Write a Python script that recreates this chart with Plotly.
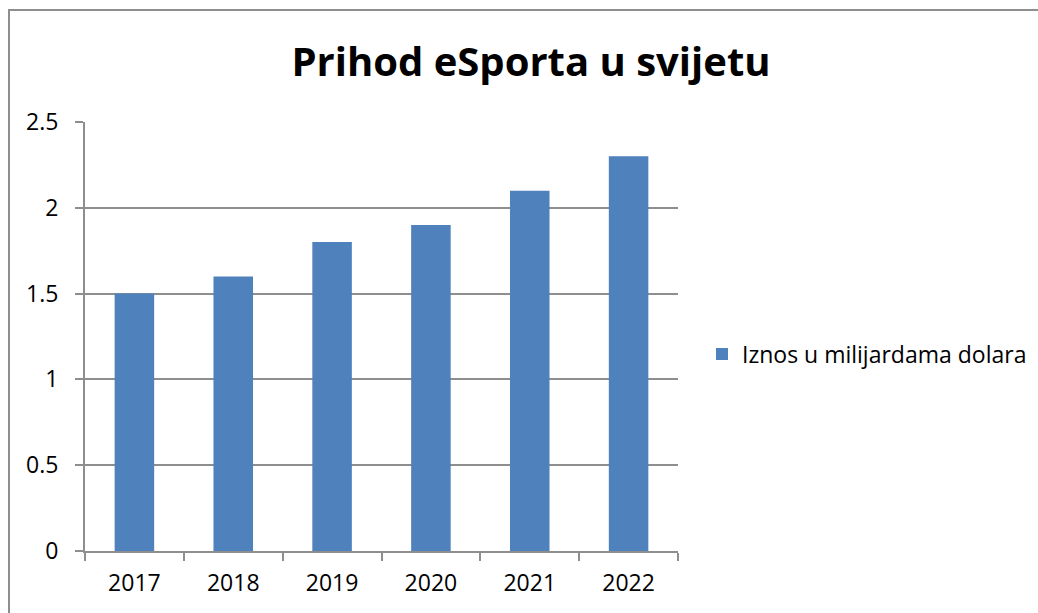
import plotly.graph_objects as go

years = ["2017", "2018", "2019", "2020", "2021", "2022"]
values = [1.5, 1.6, 1.8, 1.9, 2.1, 2.3]
series_name = "Iznos u milijardama dolara"
title_text = "Prihod eSporta u svijetu"

W, H = 1038, 613
L, R, T, B = 85, 678, 122, 551
pw, ph = R - L, B - T

def px_x(x):
    return (x - L) / pw

def px_y(y):
    return (B - y) / ph

GRAY = "#8e8e8e"
LW = 2
FONT = "Open Sans"

fig = go.Figure()
fig.add_trace(go.Bar(
    x=years, y=values, name=series_name,
    marker=dict(color="#4F81BD", line=dict(width=0)),
    showlegend=True,
))

fig.update_layout(
    width=W, height=H,
    margin=dict(l=L, r=W - R, t=T, b=H - B, pad=0),
    paper_bgcolor="white", plot_bgcolor="white",
    font=dict(family=FONT, size=23, color="black"),
    bargap=0.6,
    title=dict(text="<b>" + title_text + "</b>", font=dict(family=FONT, size=40, color="black"),
               xref="paper", x=px_x(531), xanchor="center",
               yref="container", y=1 - 62 / H, yanchor="middle"),
    showlegend=True,
    legend=dict(xref="container", yref="container",
                x=702 / W, xanchor="left", y=1 - 354 / H, yanchor="middle",
                font=dict(family=FONT, size=23, color="black"),
                bgcolor="rgba(0,0,0,0)"),
    xaxis=dict(
        type="category", showline=True, linecolor=GRAY, linewidth=LW,
        ticks="outside", ticklen=8, tickcolor=GRAY, tickwidth=LW,
        tickson="boundaries", showgrid=False,
        tickfont=dict(family=FONT, size=23, color="black"),
        ticklabelstandoff=10,
    ),
    yaxis=dict(
        range=[0, 2.5], dtick=0.5, tick0=0,
        showline=True, linecolor=GRAY, linewidth=LW,
        ticks="outside", ticklen=8, tickcolor=GRAY, tickwidth=LW,
        showgrid=True, gridcolor=GRAY, gridwidth=LW, zeroline=False,
        tickfont=dict(family=FONT, size=23, color="black"),
        ticklabelstandoff=12,
    ),
    shapes=[dict(type="rect", xref="paper", yref="paper",
                 x0=px_x(9), x1=px_x(1100), y0=px_y(700), y1=px_y(10),
                 line=dict(color=GRAY, width=LW), fillcolor="rgba(0,0,0,0)", layer="below")],
)

fig.write_html("out.html", config={"displayModeBar": False},
               post_script="document.body.style.margin='0';document.body.style.overflow='hidden';")
